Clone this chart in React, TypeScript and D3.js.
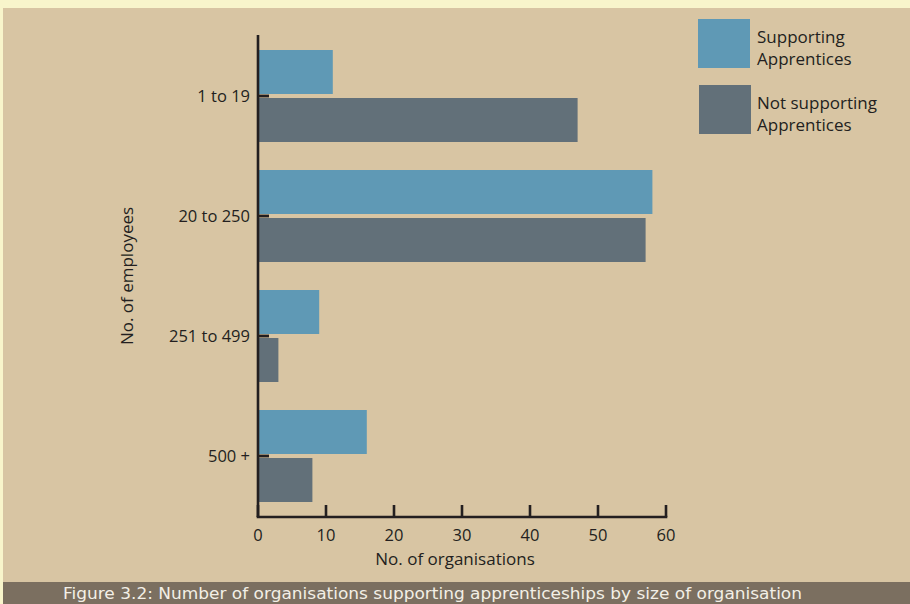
import React from "react";
import * as d3 from "d3";

// Organisation size bands and counts per group
const categories = ["1 to 19", "20 to 250", "251 to 499", "500 +"];
const supporting = [11, 58, 9, 16];
const notSupporting = [47, 57, 3, 8];
const xTicks = [0, 10, 20, 30, 40, 50, 60];
const seriesKeys = ["supporting", "notSupporting"];
const legendLabels = [
  ["Supporting", "Apprentices"],
  ["Not supporting", "Apprentices"],
];
const caption = "Figure 3.2: Number of organisations supporting apprenticeships by size of organisation";

const W = 910;
const H = 604;
const COLORS = { supporting: "#5f99b5", notSupporting: "#627079" };
const INK = "#231f20";
const FONT = "'Open Sans', 'DejaVu Sans', sans-serif";

export default function App() {
  const x = d3.scaleLinear().domain([0, 60]).range([258, 666]);
  const y = d3
    .scaleBand<string>()
    .domain(categories)
    .range([36, 516])
    .paddingInner(28 / 120)
    .paddingOuter(14 / 120);
  const sub = d3
    .scaleBand<string>()
    .domain(seriesKeys)
    .range([0, y.bandwidth()])
    .paddingInner(4 / 48)
    .paddingOuter(0);

  const rows = categories.map((c, i) => ({
    cat: c,
    supporting: supporting[i],
    notSupporting: notSupporting[i],
  }));

  const axisTop = 35;
  const axisBottom = 517;
  const tickCenter = (c: string) => (y(c) as number) + y.bandwidth() / 2;

  return (
    <svg
      width={W}
      height={H}
      style={{ position: "absolute", left: 0, top: 0, display: "block" }}
    >
      {/* page background and frame */}
      <rect x={0} y={0} width={W} height={H} fill="#f8f5cb" />
      <rect x={3} y={8} width={W - 3} height={H - 8} fill="#d8c5a3" />
      <rect x={3} y={582} width={W - 3} height={H - 582} fill="#7b6f60" />

      {/* bars */}
      {rows.map((r) =>
        seriesKeys.map((k) => (
          <rect
            key={r.cat + k}
            x={x(0) - 1}
            y={(y(r.cat) as number) + (sub(k) as number)}
            width={x((r as any)[k]) - x(0) + 1}
            height={sub.bandwidth()}
            fill={(COLORS as any)[k]}
          />
        ))
      )}

      {/* y axis */}
      <line x1={x(0)} x2={x(0)} y1={axisTop} y2={axisBottom} stroke={INK} strokeWidth={2.6} />
      {categories.map((c) => (
        <g key={c}>
          <line
            x1={x(0)}
            x2={x(0) + 11}
            y1={tickCenter(c)}
            y2={tickCenter(c)}
            stroke={INK}
            strokeWidth={2.8}
          />
          <text
            x={250}
            y={tickCenter(c) + 6}
            textAnchor="end"
            fontFamily={FONT}
            fontSize={16.5}
            fill={INK}
          >
            {c}
          </text>
        </g>
      ))}

      {/* x axis */}
      <line
        x1={x(0) - 1.3}
        x2={x(60) + 1.3}
        y1={axisBottom}
        y2={axisBottom}
        stroke={INK}
        strokeWidth={2.6}
      />
      {xTicks.map((t) => (
        <g key={t}>
          <line x1={x(t)} x2={x(t)} y1={axisBottom} y2={axisBottom - 12} stroke={INK} strokeWidth={2.6} />
          <text
            x={x(t)}
            y={541}
            textAnchor="middle"
            fontFamily={FONT}
            fontSize={16.5}
            fill={INK}
          >
            {t}
          </text>
        </g>
      ))}

      {/* axis titles */}
      <text x={455} y={565} textAnchor="middle" fontFamily={FONT} fontSize={17} fill={INK}>
        No. of organisations
      </text>
      <text
        transform={`translate(133, 276) rotate(-90)`}
        textAnchor="middle"
        fontFamily={FONT}
        fontSize={17}
        fill={INK}
      >
        No. of employees
      </text>

      {/* legend */}
      {seriesKeys.map((k, i) => (
        <g key={k} transform={`translate(0, ${i * 66})`}>
          <rect x={698 + i} y={19} width={52} height={49} fill={(COLORS as any)[k]} />
          <text x={757} y={43} fontFamily={FONT} fontSize={17} fill={INK}>
            {legendLabels[i][0]}
          </text>
          <text x={757} y={65} fontFamily={FONT} fontSize={17} fill={INK}>
            {legendLabels[i][1]}
          </text>
        </g>
      ))}

      {/* caption */}
      <text
        x={63}
        y={599}
        fontFamily="'DejaVu Sans', sans-serif"
        fontSize={16}
        fill="#f3efe6"
        textLength={739}
        lengthAdjust="spacingAndGlyphs"
      >
        {caption}
      </text>
    </svg>
  );
}
